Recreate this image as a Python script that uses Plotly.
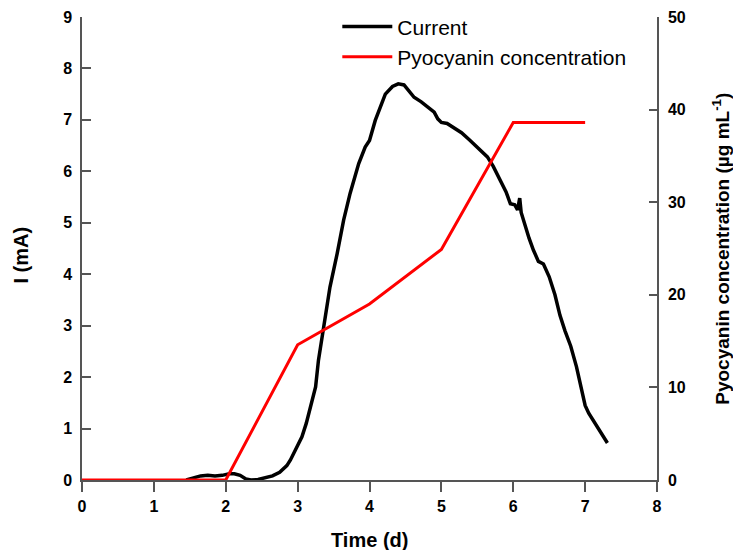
import plotly.graph_objects as go

# Current (mA) vs time (d)
time_current = [1.45, 1.55, 1.65, 1.75, 1.85, 1.95, 2.05, 2.12, 2.2, 2.28, 2.35, 2.45, 2.55, 2.65,
                2.75, 2.85, 2.90, 2.98, 3.06, 3.12, 3.18, 3.25, 3.29, 3.36, 3.45, 3.55, 3.64, 3.73,
                3.85, 3.94, 4.0, 4.08, 4.15, 4.22, 4.32, 4.40, 4.48, 4.55, 4.62, 4.72, 4.82, 4.90,
                4.95, 5.0, 5.08, 5.17, 5.28, 5.40, 5.52, 5.64, 5.72, 5.82, 5.90, 5.96, 6.02, 6.06,
                6.09, 6.11, 6.15, 6.22, 6.28, 6.35, 6.42, 6.50, 6.58, 6.65, 6.72, 6.80, 6.88, 6.95,
                7.0, 7.05, 7.15, 7.22, 7.31]
current_mA = [0.0, 0.04, 0.08, 0.09, 0.08, 0.09, 0.12, 0.12, 0.09, 0.02, 0.0, 0.01, 0.04, 0.08,
              0.15, 0.28, 0.39, 0.6, 0.84, 1.1, 1.42, 1.81, 2.33, 2.91, 3.75, 4.4, 5.05, 5.57,
              6.15, 6.47, 6.6, 6.99, 7.25, 7.5, 7.65, 7.70, 7.68, 7.55, 7.44, 7.35, 7.25, 7.15,
              7.02, 6.95, 6.93, 6.84, 6.75, 6.6, 6.45, 6.28, 6.1, 5.83, 5.6, 5.37, 5.35, 5.25,
              5.48, 5.2, 5.0, 4.7, 4.47, 4.25, 4.2, 3.95, 3.6, 3.2, 2.9, 2.6, 2.2, 1.8,
              1.45, 1.3, 1.07, 0.9, 0.72]

# Pyocyanin concentration (ug/mL)
time_pyo = [0, 1, 2, 3, 4, 5, 6, 7]
pyocyanin = [0, 0, 0, 14.6, 19.0, 24.9, 38.6, 38.6]

x_ticks = list(range(0, 9))
y_left_ticks = list(range(0, 10))
y_right_ticks = [0, 10, 20, 30, 40, 50]

FONT = "Arial, Liberation Sans, sans-serif"
AXC = "#555555"

fig = go.Figure()
fig.add_trace(go.Scatter(x=time_current, y=current_mA, mode="lines", name="Current",
                         line=dict(color="black", width=3.5), yaxis="y"))
fig.add_trace(go.Scatter(x=time_pyo, y=pyocyanin, mode="lines", name="Pyocyanin concentration",
                         line=dict(color="red", width=3), yaxis="y2"))

tickfont = dict(family=FONT, size=16, color="black", weight="bold")

fig.update_layout(
    width=733, height=550,
    margin=dict(l=82, r=76, t=17, b=70, autoexpand=False),
    paper_bgcolor="white", plot_bgcolor="white",
    showlegend=True,
    legend=dict(x=0.444, y=1.023, xanchor="left", yanchor="top",
                bgcolor="rgba(0,0,0,0)", borderwidth=0,
                font=dict(family=FONT, size=21, color="black"),
                itemwidth=50, tracegroupgap=0),
    xaxis=dict(range=[0, 8], tickvals=x_ticks, ticks="outside", ticklen=10, tickwidth=1.5,
               tickcolor=AXC, showline=True, linecolor=AXC, linewidth=1.5, showgrid=False,
               zeroline=False, tickfont=tickfont, ticklabelstandoff=1),
    yaxis=dict(range=[0, 9], tickvals=y_left_ticks, ticks="inside", ticklen=9, tickwidth=1.5,
               tickcolor=AXC, showline=True, linecolor=AXC, linewidth=1.5, showgrid=False,
               zeroline=False, tickfont=tickfont, ticklabelstandoff=5),
    yaxis2=dict(range=[0, 50], tickvals=y_right_ticks, ticks="inside", ticklen=8, tickwidth=1.5,
                tickcolor=AXC, showline=True, linecolor=AXC, linewidth=1.5, showgrid=False,
                zeroline=False, tickfont=tickfont, overlaying="y", side="right",
                ticklabelstandoff=6),
    annotations=[
        dict(text="Time (d)", xref="paper", yref="paper", x=0.5, y=-0.13, xanchor="center",
             yanchor="middle", showarrow=False,
             font=dict(family=FONT, size=20, color="black", weight="bold")),
        dict(text="I (mA)", xref="paper", yref="paper", x=-0.106, y=0.485, xanchor="center",
             yanchor="middle", textangle=-90, showarrow=False,
             font=dict(family=FONT, size=20, color="black", weight="bold")),
        dict(text="Pyocyanin concentration (µg mL<sup>-1</sup>)", xref="paper", yref="paper",
             x=1.11, y=0.5, xanchor="center", yanchor="middle", textangle=-90, showarrow=False,
             font=dict(family=FONT, size=19, color="black", weight="bold")),
    ],
)

fig.write_html("out.html")
